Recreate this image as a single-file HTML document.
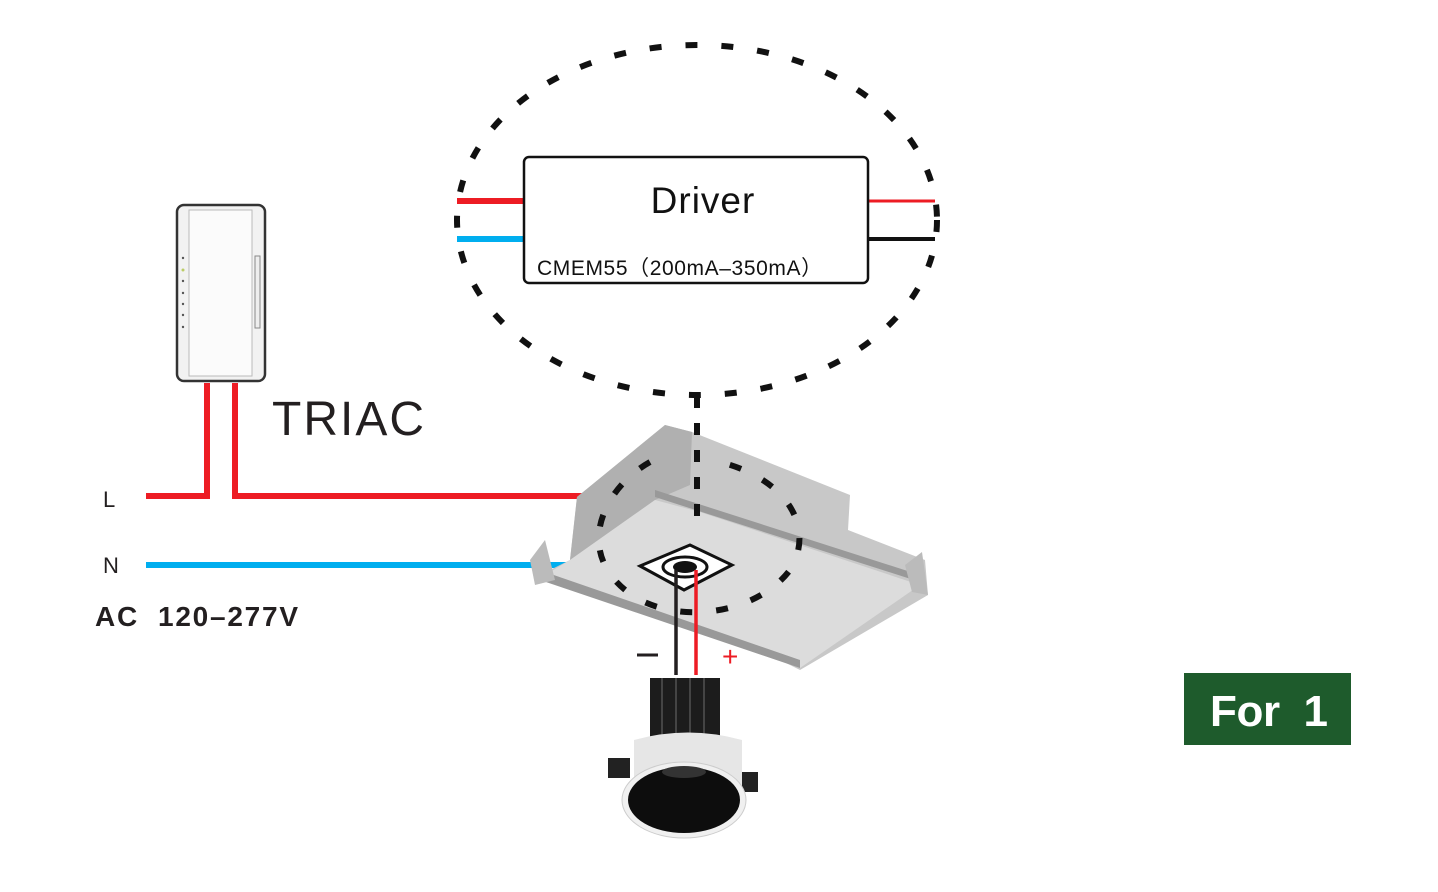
<!DOCTYPE html>
<html><head><style>
html,body{margin:0;padding:0;background:#fff;}
svg{display:block;}
text{font-family:"Liberation Sans",Arial,sans-serif;}
</style></head><body>
<svg width="1438" height="892" viewBox="0 0 1438 892" xmlns="http://www.w3.org/2000/svg">
<ellipse cx="697" cy="220" rx="240" ry="175" fill="none" stroke="#111" stroke-width="6" stroke-dasharray="12 24"/>
<line x1="457" y1="201" x2="524" y2="201" stroke="#ed1c24" stroke-width="6"/>
<line x1="457" y1="239" x2="524" y2="239" stroke="#00aeef" stroke-width="6"/>
<line x1="868" y1="201" x2="935" y2="201" stroke="#ed1c24" stroke-width="3"/>
<line x1="868" y1="239" x2="935" y2="239" stroke="#111" stroke-width="4"/>
<rect x="524" y="157" width="344" height="126" rx="5" fill="#fff" stroke="#111" stroke-width="2.5"/>
<text x="703" y="213" font-size="37" text-anchor="middle" fill="#111" letter-spacing="1">Driver</text>
<text x="537" y="275" font-size="21" fill="#111" letter-spacing="0.6">CMEM55（200mA–350mA）</text>

<rect x="177" y="205" width="88" height="176" rx="7" fill="#f2f2f2" stroke="#333" stroke-width="2.5"/>
<rect x="189" y="210" width="63" height="166" fill="#fbfbfb" stroke="#bbb" stroke-width="1"/>
<rect x="255" y="256" width="5" height="72" fill="#eee" stroke="#888" stroke-width="1"/>
<g fill="#555"><circle cx="183" cy="258" r="1.2"/><circle cx="183" cy="270" r="1.5" fill="#bc6"/><circle cx="183" cy="281" r="1.2"/><circle cx="183" cy="293" r="1.2"/><circle cx="183" cy="304" r="1.2"/><circle cx="183" cy="315" r="1.2"/><circle cx="183" cy="327" r="1.2"/></g>
<text x="272" y="435" font-size="48" fill="#231f20" letter-spacing="2">TRIAC</text>

<polyline points="146,496 207,496 207,383" fill="none" stroke="#ed1c24" stroke-width="6"/>
<polyline points="235,383 235,496 582,496" fill="none" stroke="#ed1c24" stroke-width="6"/>
<line x1="146" y1="565" x2="572" y2="565" stroke="#00aeef" stroke-width="6"/>
<text x="103" y="507" font-size="22" fill="#231f20">L</text>
<text x="103" y="573" font-size="22" fill="#231f20">N</text>
<text x="95" y="626" font-size="28" font-weight="bold" fill="#231f20" xml:space="preserve" textLength="203" lengthAdjust="spacing">AC  120–277V</text>

<polygon points="665,425 692,432 850,495 848,530 925,560 928,595 800,670 780,660 540,575 570,560 577,497" fill="#c8c8c8"/>
<polygon points="577,497 665,425 692,432 690,485 655,500 570,560" fill="#b0b0b0"/>
<polygon points="570,560 655,500 700,512 920,585 800,668 540,578" fill="#dcdcdc"/>
<polygon points="655,490 920,575 920,582 655,497" fill="#999"/>
<polygon points="545,572 800,660 800,668 540,580" fill="#999"/>
<polygon points="530,560 545,540 555,580 535,585" fill="#bbb"/>
<polygon points="905,565 922,552 928,595 912,592" fill="#bbb"/>
<polygon points="640,566 690,545 732,565 684,590" fill="#fff" stroke="#111" stroke-width="3"/>
<ellipse cx="685" cy="567" rx="22" ry="10" fill="#fff" stroke="#111" stroke-width="3"/>
<ellipse cx="685" cy="567" rx="12" ry="6" fill="#111"/>
<line x1="697" y1="396" x2="697" y2="525" stroke="#111" stroke-width="6" stroke-dasharray="12 15"/>
<path d="M650,462 C600,490 570,560 640,600 C690,625 760,610 790,570 C815,530 790,480 720,462" fill="none" stroke="#111" stroke-width="6" stroke-dasharray="12 24"/>

<line x1="676" y1="570" x2="676" y2="675" stroke="#231f20" stroke-width="3.5"/>
<line x1="696" y1="570" x2="696" y2="675" stroke="#ed1c24" stroke-width="3.5"/>
<line x1="637" y1="655" x2="658" y2="655" stroke="#231f20" stroke-width="3"/>
<text x="722" y="666" font-size="28" fill="#ed1c24">+</text>

<rect x="650" y="678" width="70" height="60" fill="#1c1c1c"/>
<g stroke="#444" stroke-width="2"><line x1="662" y1="678" x2="662" y2="735"/><line x1="676" y1="678" x2="676" y2="735"/><line x1="690" y1="678" x2="690" y2="735"/><line x1="704" y1="678" x2="704" y2="735"/></g>
<rect x="608" y="758" width="22" height="20" fill="#222"/>
<rect x="738" y="772" width="20" height="20" fill="#222"/>
<path d="M634,740 Q688,725 742,740 L742,800 L634,800 Z" fill="#e6e6e6"/>
<ellipse cx="684" cy="800" rx="62" ry="38" fill="#f0f0f0" stroke="#ccc" stroke-width="1"/>
<ellipse cx="684" cy="800" rx="56" ry="33" fill="#0d0d0d"/>
<ellipse cx="684" cy="772" rx="22" ry="6" fill="#333"/>

<rect x="1184" y="673" width="167" height="72" fill="#1e5b2c"/>
<text x="1269" y="726" font-size="44" font-weight="bold" fill="#fff" text-anchor="middle" xml:space="preserve" textLength="118" lengthAdjust="spacing">For  1</text>
</svg>
</body></html>
